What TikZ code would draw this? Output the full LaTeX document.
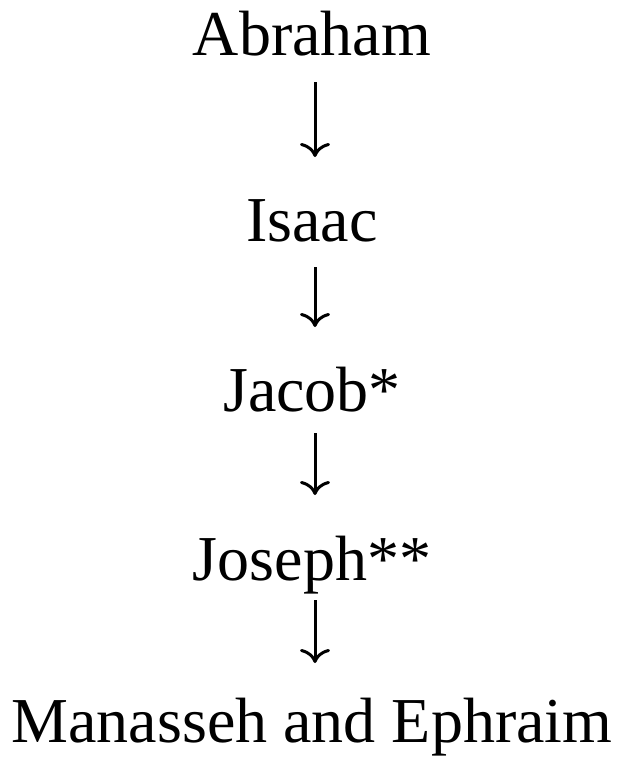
\documentclass[tikz,border=0pt]{standalone}
\usepackage{fontspec}
\setmainfont{Liberation Serif}
\usetikzlibrary{arrows.meta}
\begin{document}
\begin{tikzpicture}[x=1pt,y=-1pt,
  person/.style={anchor=base,inner sep=0pt,font=\fontsize{64}{70}\selectfont},
  descent/.style={line width=3pt,-{Computer Modern Rightarrow[length=14pt,width=30pt,line width=3pt]}}]
\useasboundingbox (0,0) rectangle (621,758);
\node[person] (abr) at (312,55) {Abraham};
\node[person] (isa) at (312,241) {Isaac};
\node[person] (jac) at (312,411) {Jacob*};
\node[person] (jos) at (312,580) {Joseph**};
\node[person] (mae) at (312,742) {Manasseh and Ephraim};
\draw[descent] ([xshift=3pt,yshift=-27pt]abr.base) -- ([xshift=3pt,yshift=84pt]isa.base);
\draw[descent] ([xshift=3pt,yshift=-26pt]isa.base) -- ([xshift=3pt,yshift=84pt]jac.base);
\draw[descent] ([xshift=3pt,yshift=-22pt]jac.base) -- ([xshift=3pt,yshift=85pt]jos.base);
\draw[descent] ([xshift=3pt,yshift=-20pt]jos.base) -- ([xshift=3pt,yshift=79pt]mae.base);
\end{tikzpicture}
\end{document}
